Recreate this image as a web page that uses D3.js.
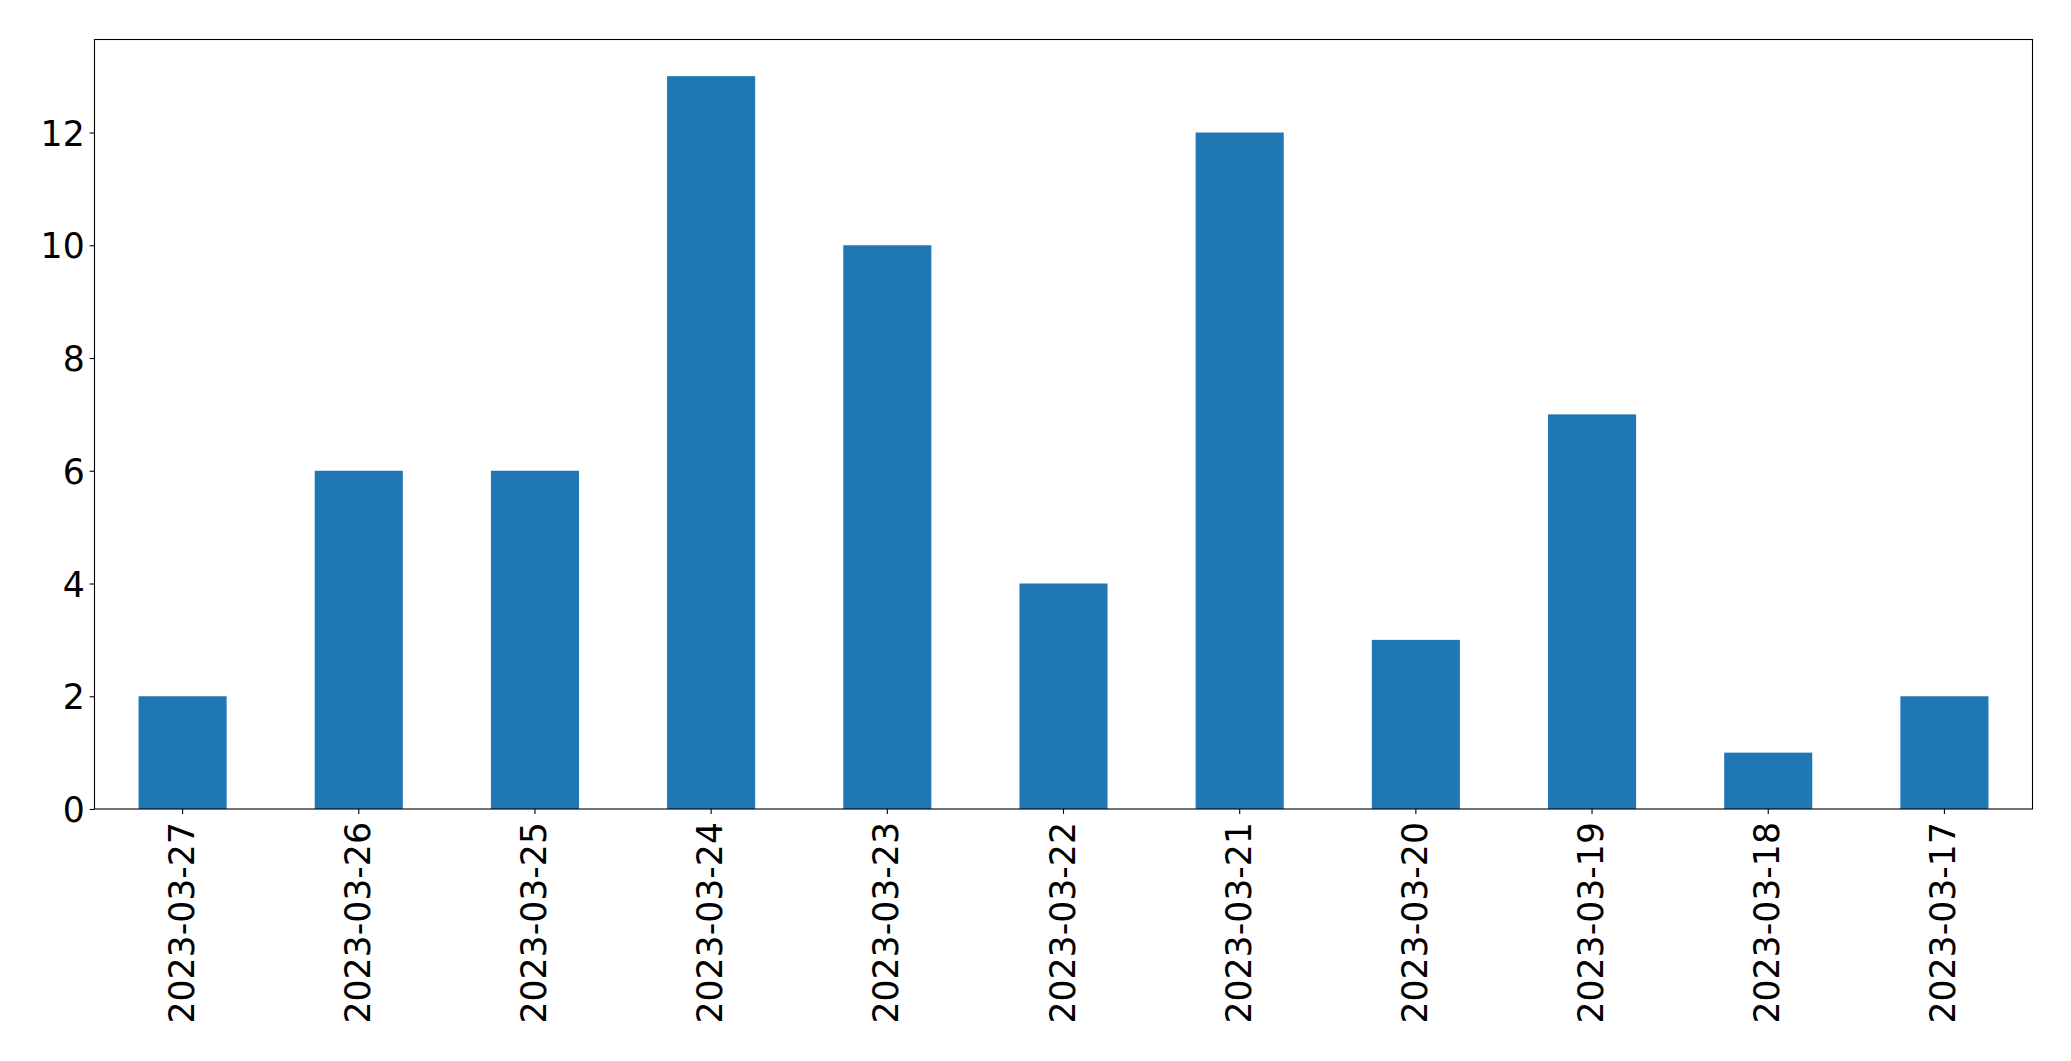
<!DOCTYPE html>
<html>
<head>
<meta charset="utf-8">
<script src="https://cdn.jsdelivr.net/npm/d3@7"></script>
<style>
  html, body { margin: 0; padding: 0; background: #fff; }
  svg { display: block; }
  text { font-family: "DejaVu Sans", sans-serif; fill: #000; }
</style>
</head>
<body>
<script>
const categories = ["2023-03-27","2023-03-26","2023-03-25","2023-03-24","2023-03-23","2023-03-22","2023-03-21","2023-03-20","2023-03-19","2023-03-18","2023-03-17"];
const values = [2, 6, 6, 13, 10, 4, 12, 3, 7, 1, 2];
const yTicks = [0, 2, 4, 6, 8, 10, 12];

const W = 2071, H = 1061;
const margin = {left: 94.5, right: W - 2032.5, top: 39.5, bottom: H - 809};
const iw = W - margin.left - margin.right;
const ih = H - margin.top - margin.bottom;
const fs = 34.7;

const svg = d3.select("body").append("svg").attr("width", W).attr("height", H);
const g = svg.append("g").attr("transform", `translate(${margin.left},${margin.top})`);

const x = d3.scaleBand().domain(categories).range([0, iw]).paddingInner(0.5).paddingOuter(0.25);
const yMax = d3.max(values) * 1.05;
const y = d3.scaleLinear().domain([0, yMax]).range([ih, 0]);

g.selectAll("rect.bar").data(values).join("rect")
  .attr("class", "bar")
  .attr("x", (d, i) => x(categories[i]))
  .attr("width", x.bandwidth())
  .attr("y", d => y(d))
  .attr("height", d => y(0) - y(d))
  .attr("fill", "#1f77b4");

// Y axis
const yAxis = d3.axisLeft(y).tickValues(yTicks).tickFormat(d3.format("d")).tickSize(4.9).tickPadding(4.9);
const ya = g.append("g").call(yAxis);
ya.select(".domain").remove();
ya.selectAll("line").attr("stroke", "#000").attr("stroke-width", 1.1);
ya.selectAll("text").style("font-size", fs + "px").attr("dy", "0.36em");

// X axis
const xAxis = d3.axisBottom(x).tickSize(4.9).tickPadding(4.9);
const xa = g.append("g").attr("transform", `translate(0,${ih})`).call(xAxis);
xa.select(".domain").remove();
xa.selectAll("line").attr("stroke", "#000").attr("stroke-width", 1.1);
xa.selectAll("text")
  .style("font-size", fs + "px")
  .attr("text-anchor", "end")
  .attr("dy", null)
  .attr("y", 0)
  .attr("transform", "translate(-1,13) rotate(-90)")
  .attr("dominant-baseline", "central");

// Frame
g.append("rect").attr("x", 0).attr("y", 0).attr("width", iw).attr("height", ih)
  .attr("fill", "none").attr("stroke", "#000").attr("stroke-width", 1.1);
</script>
</body>
</html>
